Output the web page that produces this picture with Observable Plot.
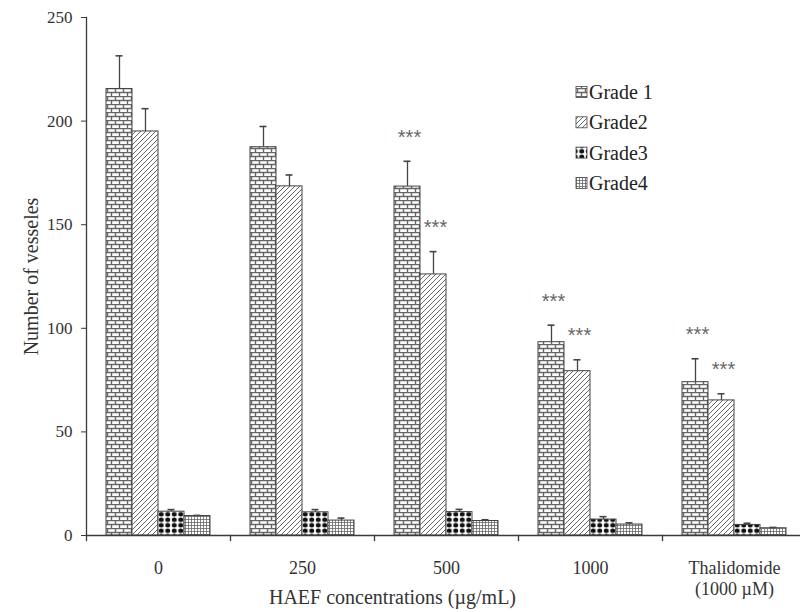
<!DOCTYPE html>
<html>
<head>
<meta charset="utf-8">
<script src="https://cdn.jsdelivr.net/npm/d3@7"></script>
<script src="https://cdn.jsdelivr.net/npm/@observablehq/plot@0.6"></script>
<style>
  html, body { margin: 0; padding: 0; background: white; }
  #chart { width: 800px; height: 612px; overflow: hidden; position: relative; }
  #chart svg { max-width: none !important; }
</style>
</head>
<body>
<div id="chart"></div>
<script>
// ---- data ----
const categories = ["0", "250", "500", "1000", "Thalidomide"];
const categoryLabels = ["0", "250", "500", "1000", "Thalidomide\n(1000 µM)"];
const grades = ["Grade 1", "Grade2", "Grade3", "Grade4"];
const grade1 = [215.5, 187.4, 168.4, 93.3, 74.0];
const grade1Sd = [16.0, 10.0, 12.2, 8.2, 11.3];
const grade2 = [195.0, 168.5, 126.0, 79.3, 65.2];
const grade2Sd = [11.0, 5.5, 11.0, 5.5, 3.2];
const grade3 = [11.5, 11.2, 11.3, 7.7, 5.1];
const grade3Sd = [1.0, 1.3, 1.3, 1.4, 0.8];
const grade4 = [9.4, 7.2, 7.0, 5.3, 3.5];
const grade4Sd = [0.3, 1.2, 0.6, 0.8, 0.4];
const significance = [
  ["", "", "***", "***", "***"],
  ["", "", "***", "***", "***"],
  ["", "", "", "", ""],
  ["", "", "", "", ""]
];
const yTicks = [0, 50, 100, 150, 200, 250];
const xTitle = "HAEF concentrations (µg/mL)";
const yTitle = "Number of vesseles";

const values = [grade1, grade2, grade3, grade4];
const sds = [grade1Sd, grade2Sd, grade3Sd, grade4Sd];
const patternIds = ["pat-g1", "pat-g2", "pat-g3", "pat-g4"];

const rows = [];
categories.forEach((c, i) => grades.forEach((g, j) => rows.push({
  cat: c, grade: g, gi: j, value: values[j][i], top: values[j][i] + sds[j][i], sig: significance[j][i]
})));

const labelOf = Object.fromEntries(categories.map((c, i) => [c, categoryLabels[i]]));
const axisColor = "#3a3a3a";
const serif = "'Liberation Serif', 'Times New Roman', serif";

const barMarks = grades.map((g, j) => Plot.barY(rows.filter(d => d.gi === j), {
  fx: "cat", x: "grade", y: "value", fill: `url(#${patternIds[j]})`, stroke: "#444", strokeWidth: 1, inset: 0
}));

const plot = Plot.plot({
  width: 808,
  height: 612,
  marginLeft: 84,
  marginRight: 0,
  marginTop: 17,
  marginBottom: 77,
  style: { fontFamily: serif, fontSize: "17px", color: "#333", background: "white", maxWidth: "none" },
  fx: { domain: categories, padding: 0 },
  x: { domain: grades, paddingInner: 0, paddingOuter: 0.736, axis: null },
  y: { domain: [0, 250] },
  marks: [
    ...barMarks,
    Plot.ruleX(rows, { fx: "cat", x: "grade", y1: "value", y2: "top", stroke: "#444", strokeWidth: 1.3 }),
    Plot.tickY(rows, { fx: "cat", x: "grade", y: "top", stroke: "#444", strokeWidth: 1.6, insetLeft: 9.5, insetRight: 9.5 }),
    Plot.text(rows.filter(d => d.sig), { fx: "cat", x: "grade", y: "top", text: "sig", dy: -24, dx: 2, fontSize: 20, fill: "#666", fontFamily: "'Liberation Sans', Arial, sans-serif", letterSpacing: "1.5px" }),
    Plot.ruleY([0], { stroke: axisColor, strokeWidth: 1.3 }),
    Plot.frame({ anchor: "left", facetAnchor: "left", stroke: axisColor, strokeWidth: 1.3 }),
    Plot.frame({ anchor: "left", insetTop: 518, insetBottom: -5, stroke: axisColor, strokeWidth: 1.3 }),
    Plot.axisY({ ticks: yTicks, tickSize: 5, tickPadding: 9, label: null, fontSize: 17, stroke: axisColor }),
    Plot.axisY({ ticks: [], label: yTitle, labelAnchor: "center", labelOffset: 63, labelArrow: "none", fontSize: 20 }),
    Plot.axisFx({ anchor: "bottom", tickSize: 0, tickPadding: 23, tickFormat: c => labelOf[c], label: null, fontSize: 18, lineHeight: 1.2 }),
    // x-axis title, placed relative to the boundary between the "250" and "500" groups
    Plot.text([{ cat: "250", t: xTitle }], { fx: "cat", text: "t", frameAnchor: "bottom-right", textAnchor: "middle", dx: 18, dy: 68, fontSize: 20, fill: "#333" })
  ]
});
plot.style.maxWidth = "none";

// pattern definitions
const svg = d3.select(plot);
const defs = svg.insert("defs", ":first-child");
// Grade 1: brick
const p1 = defs.append("pattern").attr("id", "pat-g1").attr("patternUnits", "userSpaceOnUse").attr("width", 8).attr("height", 8);
p1.append("rect").attr("width", 8).attr("height", 8).attr("fill", "white");
p1.append("path").attr("d", "M0,0.5H8M0,4.5H8M1.5,0.5V4.5M5.5,4.5V8.5").attr("stroke", "#666").attr("stroke-width", 1.4).attr("fill", "none");
// Grade 2: diagonal
const p2 = defs.append("pattern").attr("id", "pat-g2").attr("patternUnits", "userSpaceOnUse").attr("width", 5).attr("height", 5);
p2.append("rect").attr("width", 5).attr("height", 5).attr("fill", "white");
p2.append("path").attr("d", "M-1,6L6,-1M-1,1L1,-1M4,6L6,4").attr("stroke", "#555").attr("stroke-width", 0.9).attr("fill", "none");
// Grade 3: black dots
const p3 = defs.append("pattern").attr("id", "pat-g3").attr("patternUnits", "userSpaceOnUse").attr("width", 6.5).attr("height", 5.5);
p3.append("rect").attr("width", 6.5).attr("height", 5.5).attr("fill", "white");
p3.append("ellipse").attr("cx", 3.25).attr("cy", 2.75).attr("rx", 2.5).attr("ry", 2.3).attr("fill", "#111");
// Grade 4: fine grid
const p4 = defs.append("pattern").attr("id", "pat-g4").attr("patternUnits", "userSpaceOnUse").attr("width", 3).attr("height", 3);
p4.append("rect").attr("width", 3).attr("height", 3).attr("fill", "white");
p4.append("path").attr("d", "M0,0.5H3M0.5,0V3").attr("stroke", "#666").attr("stroke-width", 0.8).attr("fill", "none");

// legend
const legend = svg.append("g").attr("font-family", serif).attr("font-size", 20).attr("fill", "#222").attr("text-anchor", "start");
grades.forEach((g, j) => {
  const y = 92 + j * 30.3;
  legend.append("rect").attr("x", 576).attr("y", y - 5.5).attr("width", 11).attr("height", 11)
    .attr("fill", `url(#${patternIds[j]})`).attr("stroke", "#444").attr("stroke-width", 0.8);
  legend.append("text").attr("x", 589).attr("y", y).attr("dy", "0.35em").attr("text-anchor", "start").text(g);
});

document.getElementById("chart").appendChild(plot);
</script>
</body>
</html>
